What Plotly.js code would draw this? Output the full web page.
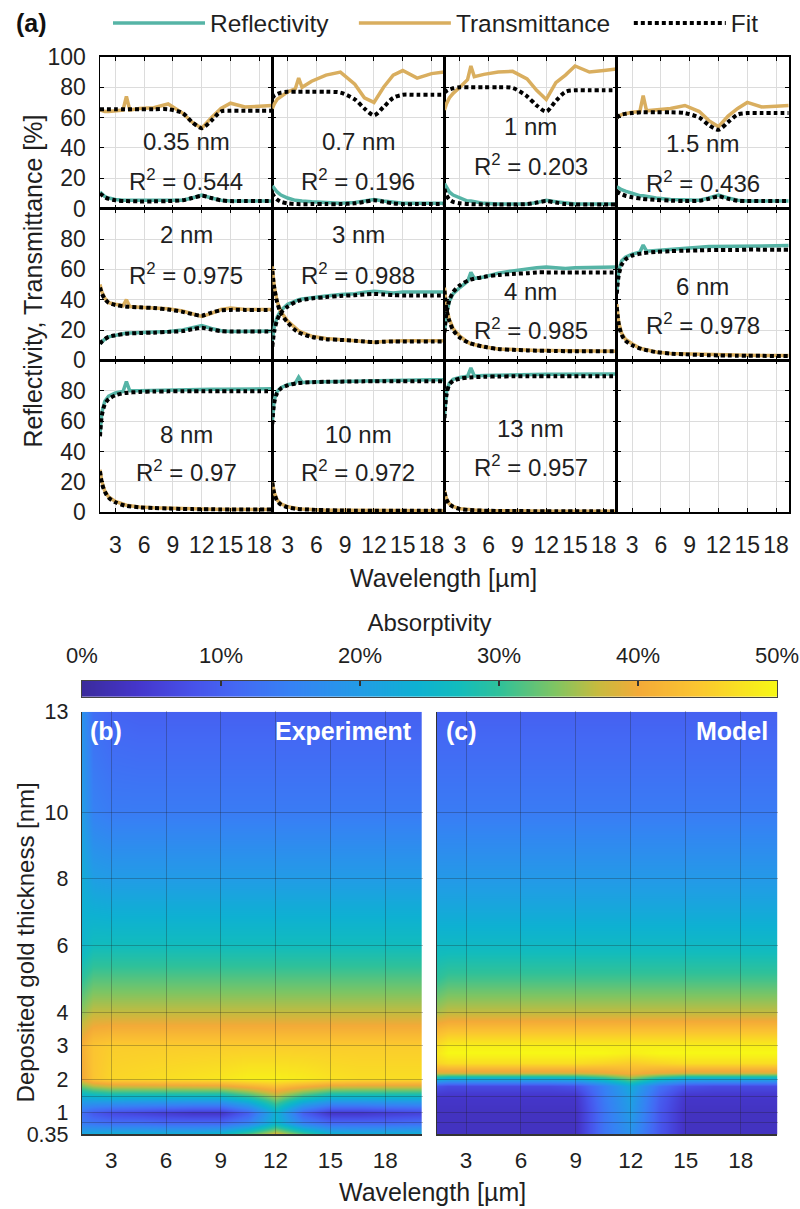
<!DOCTYPE html>
<html><head><meta charset="utf-8">
<script src="https://cdn.plot.ly/plotly-3.0.1.min.js"></script>
<style>html,body{margin:0;padding:0;background:#fff}#chart{width:800px;height:1209px}</style>
</head><body><div id="chart"></div>
<script>
// ---------- (a) spectra ----------
const wlMeas = [1.4, 1.6, 1.9, 2.3, 3, 3.8, 4.15, 4.5, 5.5, 7, 8.5, 10, 11, 12, 13, 14, 15, 16.5, 18, 19.3];
const wlFit  = [1.4, 1.6, 1.9, 2.3, 3, 4, 5.5, 7, 8.5, 10, 11, 12, 13, 14, 15, 16.5, 18, 19.3];
const wlTicks = [3, 6, 9, 12, 15, 18];
const pctTicks = [0, 20, 40, 60, 80, 100];
const seriesNames = ['Reflectivity', 'Transmittance', 'Fit'];

const thicknessLabels = ['0.35 nm', '0.7 nm', '1 nm', '1.5 nm', '2 nm', '3 nm', '4 nm', '6 nm', '8 nm', '10 nm', '13 nm'];
const r2Values = ['0.544', '0.196', '0.203', '0.436', '0.975', '0.988', '0.985', '0.978', '0.97', '0.972', '0.957'];

const refl_035 = [11, 9.5, 8, 7, 6, 5.5, 5.5, 5.5, 5, 5, 5, 5.5, 7, 9, 7, 5.5, 5, 5, 5, 5];
const trans_035 = [65, 64.5, 64, 64, 64.5, 65, 74, 65, 66, 66.5, 69, 63, 57, 53, 60, 66, 69.5, 67, 67.5, 68];
const reflFit_035 = [10, 9, 7.5, 6.5, 5.5, 5, 4.8, 4.8, 5, 5.5, 7, 8.5, 7, 5.5, 5, 5, 5, 5];
const transFit_035 = [65.5, 65.5, 65.5, 65.5, 65.5, 65.5, 65.5, 65.5, 65.5, 63, 57, 53, 58, 64, 64.5, 64.5, 64.5, 64.5];

const refl_07 = [15, 13, 11, 9, 7, 5.5, 5.5, 5, 4.5, 4, 3.5, 4, 5, 6, 5, 4, 3.5, 3.5, 3.5, 3.5];
const trans_07 = [66, 69, 72, 74, 77, 79, 86, 80, 84, 88, 90, 82, 73, 70, 80, 88, 91, 86, 89, 90];
const reflFit_07 = [10, 8, 6, 4.5, 3.5, 3, 3, 3, 3, 3.5, 4.5, 5.5, 4.5, 3.5, 3, 3, 3, 3];
const transFit_07 = [73, 74.5, 75.5, 76.5, 77, 77, 77, 77, 76.5, 72, 66, 61.5, 67, 73, 75, 75, 75, 75];

const refl_1 = [16.5, 14, 11, 9, 7, 5, 5, 4.5, 3.5, 3, 3, 3, 4, 5.5, 4.5, 3.5, 3, 3, 3, 3];
const trans_1 = [65, 69, 73, 76, 80, 85, 94, 87, 88.5, 90, 90.5, 85.5, 78, 72, 83, 88, 94, 90, 91, 92];
const reflFit_1 = [13, 9, 6, 4.5, 3.5, 3, 2.8, 2.8, 2.8, 3, 4, 5, 4, 3, 2.8, 2.8, 2.8, 2.8];
const transFit_1 = [76.5, 77.5, 78.5, 79.3, 80, 80, 80, 80, 79.5, 74, 68, 64, 71, 77, 78, 78, 78, 78];

const refl_15 = [14.5, 13.5, 12.5, 11.5, 10, 8.5, 8.5, 8, 7, 6, 5.5, 5.5, 7, 9, 7, 5.5, 5, 5, 5, 5];
const trans_15 = [60, 61, 62, 62.5, 63.5, 64, 74.5, 64.5, 65, 66, 68, 64, 58, 54, 61, 66, 70, 67, 67.5, 68];
const reflFit_15 = [11.5, 10.5, 9.5, 8.5, 7.5, 6.5, 5.8, 5.3, 5, 5.2, 6.5, 8, 6.5, 5.2, 5, 5, 5, 5];
const transFit_15 = [60, 61, 62, 62.5, 63, 63.5, 63.5, 63.5, 63, 60, 55, 52, 57, 62, 63, 63, 63, 63];

const refl_2 = [11, 12.5, 14, 15.5, 16.5, 17.5, 18, 18, 18.3, 18.5, 19, 20, 21.5, 23, 21, 19.5, 19, 19.3, 19.3, 19.3];
const trans_2 = [50, 45, 41, 38, 37, 36, 40, 35.5, 35, 34.5, 34, 32.5, 31, 29, 31, 33.5, 34.5, 33.5, 33.5, 33.5];
const reflFit_2 = [11, 12.5, 14, 15.5, 16.5, 17.5, 18, 18.3, 18.8, 19.3, 20.5, 21.5, 20.3, 19.3, 19, 19, 19, 19];
const transFit_2 = [48, 44, 40.5, 38, 36.5, 35.5, 35, 34.5, 33.5, 32, 30.5, 29.5, 31.5, 33, 33.3, 33.3, 33.3, 33.3];

const refl_3 = [13, 22, 28.5, 33, 37, 39.5, 40, 40.5, 41.5, 42.5, 43.5, 44, 45, 45.5, 45, 44.5, 45, 45, 45, 45];
const trans_3 = [62, 49, 39, 32, 26, 21, 19.5, 18.5, 16, 14.5, 13.5, 13, 12.5, 12, 12.5, 13, 13, 13, 13, 13];
const reflFit_3 = [9, 19, 26.5, 31.5, 35.5, 39, 40.8, 41.7, 42.5, 43, 43.5, 43.8, 43.5, 43, 42.8, 42.8, 42.8, 42.8];
const transFit_3 = [59, 48, 38.5, 31, 25, 19, 15.5, 14, 13.5, 13, 12.5, 12, 12.3, 12.5, 12.5, 12.5, 12.5, 12.5];

const refl_4 = [19.5, 30, 39, 44, 48, 52, 58, 54, 55, 57.5, 59, 60.5, 61, 61.5, 61, 60.5, 61, 61, 61, 61.5];
const trans_4 = [48, 35, 27, 21, 16, 12, 11, 10.5, 9, 7.5, 7, 6.8, 6.6, 6.5, 6.4, 6.3, 6.2, 6.2, 6.1, 6.1];
const reflFit_4 = [18.5, 31, 39.5, 45, 49.5, 53, 55, 56.3, 57, 57.5, 58, 58, 58, 58, 58, 58, 58, 58];
const transFit_4 = [46, 34, 26, 20, 15, 11.5, 9, 7.5, 7, 6.6, 6.4, 6.3, 6.2, 6.1, 6, 6, 6, 6];

const refl_6 = [46, 59, 65.5, 68, 70, 71.3, 76, 72, 72.5, 73, 74, 74.5, 75, 75, 75, 75, 75.3, 75.5, 75.5, 75.7];
const trans_6 = [37, 25, 18, 14, 11, 8, 7.5, 7, 5.5, 4.5, 4.2, 4, 3.8, 3.6, 3.5, 3.4, 3.4, 3.3, 3.3, 3.3];
const reflFit_6 = [44, 56, 63, 66.5, 69, 70.5, 71.5, 72, 72.3, 72.5, 72.7, 72.8, 72.8, 72.8, 73, 73, 73, 73];
const transFit_6 = [35, 24, 17, 13, 10, 7.5, 5.5, 4.5, 4, 3.6, 3.4, 3.3, 3.2, 3.1, 3, 3, 2.9, 2.9];

const refl_8 = [52, 66, 73, 76.5, 78.5, 79.5, 86, 80, 80, 80.3, 80.5, 80.6, 80.7, 80.8, 81, 81, 81, 81.2, 81.3, 81.3];
const trans_8 = [28, 20, 14, 10, 7, 5, 4.6, 4.2, 3.4, 2.9, 2.5, 2.2, 2.1, 2, 1.9, 1.9, 1.8, 1.8, 1.8, 1.8];
const reflFit_8 = [50, 64, 71, 74.5, 77, 78.5, 79.2, 79.5, 79.6, 79.7, 79.7, 79.7, 79.7, 79.7, 79.7, 79.7, 79.7, 79.7];
const transFit_8 = [27, 19, 13.5, 9.5, 6.5, 4.3, 3.2, 2.7, 2.4, 2.1, 2, 1.9, 1.9, 1.8, 1.8, 1.8, 1.8, 1.8];

const refl_10 = [60, 74, 79.5, 82, 84, 85, 89, 85.5, 85.8, 86, 86.3, 86.5, 86.7, 87, 87, 87, 87, 87.2, 87.3, 87.3];
const trans_10 = [20, 13, 8, 5.5, 3.5, 2.3, 2.2, 2, 1.6, 1.3, 1.2, 1.1, 1, 1, 1, 1, 1, 1, 1, 1];
const reflFit_10 = [58, 72, 78.5, 81.5, 83.5, 85, 85.6, 85.9, 86, 86.1, 86.2, 86.2, 86.2, 86.2, 86.2, 86.2, 86.2, 86.2];
const transFit_10 = [19.5, 12.5, 7.5, 5, 3.2, 2.1, 1.6, 1.3, 1.1, 1, 1, 0.9, 0.9, 0.9, 0.9, 0.9, 0.9, 0.9];

const refl_13 = [64, 79, 85, 87.5, 88.8, 89.5, 95, 89.7, 90, 90.3, 90.5, 90.6, 90.7, 90.8, 90.9, 91, 91, 91, 91, 91];
const trans_13 = [14, 9, 5.5, 3.8, 2.2, 1.6, 1.5, 1.4, 1.1, 0.9, 0.8, 0.7, 0.7, 0.7, 0.6, 0.6, 0.6, 0.6, 0.6, 0.6];
const reflFit_13 = [62, 77, 84, 86.5, 88, 88.8, 89.2, 89.4, 89.5, 89.5, 89.5, 89.5, 89.5, 89.5, 89.5, 89.5, 89.5, 89.5];
const transFit_13 = [13, 8.5, 5.3, 3.6, 2.1, 1.4, 1, 0.8, 0.7, 0.7, 0.6, 0.6, 0.6, 0.6, 0.6, 0.6, 0.6, 0.6];

// ---------- (b)/(c) absorptivity maps ----------
const hmWavelength = [1.4, 2, 3, 4.5, 6, 7.5, 9, 10.5, 12, 13.5, 15, 16.5, 18, 20];
const thickExp = [0.35, 0.7, 1, 1.5, 2, 3, 4, 6, 8, 10, 13];
const absExp = [
  [23, 24, 25, 25, 25, 25, 27, 33, 40, 33, 26, 25, 25, 25],
  [14, 13, 12, 12, 11, 11, 11, 15, 25, 15, 11, 11, 11, 12],
  [12, 9, 7, 6, 5, 4, 4, 10, 24, 10, 4, 4, 5, 6],
  [24, 25, 26, 26, 26, 26, 26, 30, 36, 30, 26, 26, 26, 26],
  [40, 44, 46, 46.5, 47, 47.5, 48, 49, 49, 48.5, 47.5, 47, 47, 47],
  [41, 44, 45, 45, 45, 45, 45, 45, 45, 45, 45, 45, 45, 45],
  [35, 37, 37, 37, 37, 37, 37, 37, 37, 37, 37, 37, 37, 37],
  [25, 27, 27, 27, 27, 27, 27, 27, 27, 27, 27, 27, 27, 27],
  [23, 20.5, 20, 20, 20, 20, 20, 20, 20, 20, 20, 20, 20, 20],
  [20, 15, 14, 14, 14, 14, 14, 14, 14, 14, 14, 14, 14, 14],
  [18, 12, 10.5, 10, 10, 10, 10, 10, 10, 10, 10, 10, 10, 10]
];
const thickModel = [0.35, 0.7, 1, 1.5, 1.8, 2, 2.2, 2.5, 2.8, 3, 3.5, 4, 5, 6, 7, 8, 10, 13];
const absModel = [
  [3, 3, 3, 3, 3, 3, 3, 13, 18, 9, 3, 3, 3, 3],
  [3, 3, 3, 3, 3, 3, 3, 13, 19, 9, 3, 3, 3, 3],
  [3, 3, 3, 3, 3, 3, 3, 13, 20, 9, 3, 3, 3, 3],
  [4, 4, 4, 4, 4, 4, 4, 14, 21, 10, 4, 4, 4, 4],
  [8, 7, 7, 7, 7, 7, 8, 15, 23, 13, 8, 7, 7, 7],
  [24, 22, 22, 22, 22, 22, 23, 27, 33, 26, 22, 22, 22, 22],
  [38, 38, 38, 38, 38, 38, 38, 39, 41, 39, 38, 38, 38, 38],
  [46, 47, 47, 47, 47, 47, 47, 46, 45, 46, 47, 47, 47, 47],
  [48, 50, 50, 50, 50, 50, 50, 50, 49, 50, 50, 50, 50, 50],
  [47, 49, 49, 49, 49, 49, 49, 49, 49, 49, 49, 49, 49, 49],
  [42, 43, 43, 43, 43, 43, 43, 43, 43, 43, 43, 43, 43, 43],
  [36, 37, 37, 37, 37, 37, 37, 37, 37, 37, 37, 37, 37, 37],
  [30, 31, 31, 31, 31, 31, 31, 31, 31, 31, 31, 31, 31, 31],
  [26, 26, 26, 26, 26, 26, 26, 26, 26, 26, 26, 26, 26, 26],
  [22.5, 22.5, 22.5, 22.5, 22.5, 22.5, 22.5, 22.5, 22.5, 22.5, 22.5, 22.5, 22.5, 22.5],
  [19.5, 19.5, 19.5, 19.5, 19.5, 19.5, 19.5, 19.5, 19.5, 19.5, 19.5, 19.5, 19.5, 19.5],
  [14, 14, 14, 14, 14, 14, 14, 14, 14, 14, 14, 14, 14, 14],
  [10, 10, 10, 10, 10, 10, 10, 10, 10, 10, 10, 10, 10, 10]
];
const thickTicks = [0.35, 0.7, 1, 1.5, 2, 3, 4, 6, 8, 10, 13];
const thickTickText = ['0.35', '', '1', '', '2', '3', '4', '6', '8', '10', '13'];
const cbarSteps = [0, 5, 10, 15, 20, 25, 30, 35, 40, 45, 50];
const cbarTicks = [0, 10, 20, 30, 40, 50];
const cbarTickText = ['0%', '10%', '20%', '30%', '40%', '50%'];

// ---------- styling ----------
const W = 800, H = 1209;
const FONT = 'Liberation Sans, Arial, Helvetica, sans-serif';
const TXT = '#1f1f1f';
const TEAL = '#56b4a6', GOLD = '#d9ae5f';
const legendPad = ['\u00a0\u00a0\u00a0', '\u00a0\u00a0', ''];
const colorscale = [[0,'#3b2b9c'],[0.08,'#4536cc'],[0.16,'#4752ea'],[0.22,'#4468f4'],[0.3,'#3682f4'],[0.4,'#229ce6'],[0.48,'#0eb1d2'],[0.54,'#12bcbd'],[0.6,'#2fc19a'],[0.68,'#80c562'],[0.74,'#c6bb3f'],[0.8,'#f3aa38'],[0.88,'#fbc431'],[1,'#f7f815']];

const colEdges = [100, 272.3, 444.5, 616.8, 789];
const rowEdges = [55, 207, 359, 511];
const panelLabelY = [[140,178],[140,178],[125,163],[142,180],[233,272],[233,272],[290,328],[285,323],[433,470],[433,470],[427,465]];

const panels = [
  [refl_035, trans_035, reflFit_035, transFit_035],
  [refl_07, trans_07, reflFit_07, transFit_07],
  [refl_1, trans_1, reflFit_1, transFit_1],
  [refl_15, trans_15, reflFit_15, transFit_15],
  [refl_2, trans_2, reflFit_2, transFit_2],
  [refl_3, trans_3, reflFit_3, transFit_3],
  [refl_4, trans_4, reflFit_4, transFit_4],
  [refl_6, trans_6, reflFit_6, transFit_6],
  [refl_8, trans_8, reflFit_8, transFit_8],
  [refl_10, trans_10, reflFit_10, transFit_10],
  [refl_13, trans_13, reflFit_13, transFit_13]
];

const data = [];
const annotations = [];
const layout = {
  width: W, height: H,
  margin: {l: 0, r: 0, t: 0, b: 0},
  paper_bgcolor: '#ffffff', plot_bgcolor: '#ffffff',
  font: {family: FONT, size: 22.5, color: TXT},
  showlegend: true,
  legend: {
    orientation: 'h', x: 108 / W, xanchor: 'left', y: 1 - 21 / H, yanchor: 'middle',
    font: {size: 24.5, color: TXT}, bgcolor: 'rgba(0,0,0,0)',
    itemwidth: 92, tracegroupgap: 0
  },
  annotations: annotations
};

for (let i = 0; i < 12; i++) {
  const row = Math.floor(i / 4), col = i % 4;
  const s = i === 0 ? '' : String(i + 1);
  layout['xaxis' + s] = {
    domain: [colEdges[col] / W, colEdges[col + 1] / W], anchor: 'y' + s,
    range: [1.4, 19.35], tickvals: wlTicks, showticklabels: row === 2,
    ticks: 'inside', ticklen: 4, tickwidth: 1, tickcolor: '#000',
    showgrid: true, gridcolor: '#dcdcdc', gridwidth: 1,
    showline: true, mirror: 'ticks', linecolor: '#000', linewidth: 1.5,
    zeroline: false, fixedrange: true, ticklabelstandoff: 12,
    tickfont: {size: 23, color: TXT}
  };
  layout['yaxis' + s] = {
    domain: [1 - rowEdges[row + 1] / H, 1 - rowEdges[row] / H], anchor: 'x' + s,
    range: [0, 100], tickvals: pctTicks,
    ticktext: pctTicks.map(v => (row > 0 && v === 100) ? '' : String(v)),
    showticklabels: col === 0,
    ticks: 'inside', ticklen: 4, tickwidth: 1, tickcolor: '#000',
    showgrid: true, gridcolor: '#dcdcdc', gridwidth: 1,
    showline: true, mirror: 'ticks', linecolor: '#000', linewidth: 1.5,
    zeroline: false, fixedrange: true, ticklabelstandoff: 8,
    tickfont: {size: 23, color: TXT}
  };
  if (i < panels.length) {
    const p = panels[i];
    const xa = 'x' + s, ya = 'y' + s;
    data.push({type: 'scatter', mode: 'lines', x: wlMeas, y: p[0], xaxis: xa, yaxis: ya,
      line: {color: TEAL, width: 3.5}, name: seriesNames[0] + legendPad[0], legendgroup: 'R', showlegend: i === 0, hoverinfo: 'skip'});
    data.push({type: 'scatter', mode: 'lines', x: wlMeas, y: p[1], xaxis: xa, yaxis: ya,
      line: {color: GOLD, width: 3.5}, name: seriesNames[1] + legendPad[1], legendgroup: 'T', showlegend: i === 0, hoverinfo: 'skip'});
    data.push({type: 'scatter', mode: 'lines', x: wlFit, y: p[2], xaxis: xa, yaxis: ya,
      line: {color: '#000', width: 4, dash: '4px,3px', shape: 'spline', smoothing: 0.8}, name: seriesNames[2], legendgroup: 'F', showlegend: i === 0, hoverinfo: 'skip'});
    data.push({type: 'scatter', mode: 'lines', x: wlFit, y: p[3], xaxis: xa, yaxis: ya,
      line: {color: '#000', width: 4, dash: '4px,3px', shape: 'spline', smoothing: 0.8}, name: seriesNames[2], legendgroup: 'F', showlegend: false, hoverinfo: 'skip'});
    const [y1, y2] = panelLabelY[i];
    const bottom = rowEdges[row + 1];
    annotations.push({xref: xa + ' domain', yref: ya + ' domain', x: 0.5, y: (bottom - y1) / 152,
      text: thicknessLabels[i], showarrow: false, font: {size: 24, color: TXT}, xanchor: 'center', yanchor: 'middle'});
    annotations.push({xref: xa + ' domain', yref: ya + ' domain', x: 0.5, y: (bottom - y2) / 152,
      text: 'R<sup>2</sup> = ' + r2Values[i], showarrow: false, font: {size: 24, color: TXT}, xanchor: 'center', yanchor: 'middle'});
  } else {
    data.push({type: 'scatter', mode: 'lines', x: [], y: [], xaxis: 'x' + s, yaxis: 'y' + s, showlegend: false, hoverinfo: 'skip'});
  }
}

// colour bar (axis 13)
layout.xaxis13 = {
  domain: [82 / W, 777 / W], anchor: 'y13', range: [0, 50], side: 'top',
  tickvals: cbarTicks, ticktext: cbarTickText, ticks: 'inside', ticklen: 5, tickcolor: '#333', tickwidth: 1.5,
  showline: true, mirror: true, linecolor: '#444', linewidth: 1.2, showgrid: false, zeroline: false,
  ticklabelstandoff: 8, tickfont: {size: 22, color: TXT},
  title: {text: 'Absorptivity', font: {size: 24, color: TXT}, standoff: 4}, fixedrange: true
};
layout.yaxis13 = {
  domain: [1 - 696 / H, 1 - 680 / H], anchor: 'x13', range: [0, 1],
  showticklabels: false, ticks: '', showgrid: false, zeroline: false,
  showline: true, mirror: true, linecolor: '#444', linewidth: 1.2, fixedrange: true
};
data.push({type: 'heatmap', x: cbarSteps, y: [0, 1], z: [cbarSteps, cbarSteps], xaxis: 'x13', yaxis: 'y13',
  colorscale: colorscale, zmin: 0, zmax: 50, zsmooth: 'best', showscale: false, hoverinfo: 'skip'});

// maps (axes 14, 15)
const mapDomains = [[82, 421.7], [436.7, 777.3]];
const mapY = [1 - 1134.3 / H, 1 - 711 / H];
[14, 15].forEach((n, k) => {
  layout['xaxis' + n] = {
    domain: [mapDomains[k][0] / W, mapDomains[k][1] / W], anchor: 'y' + n, range: [1.4, 20],
    tickvals: wlTicks, ticks: 'inside', ticklen: 423, tickwidth: 1, tickcolor: 'rgba(30,30,30,0.28)',
    layer: 'above traces', showgrid: false, zeroline: false,
    showline: true, linecolor: '#333', linewidth: 1.2, ticklabelstandoff: 5,
    tickfont: {size: 22.5, color: TXT}, fixedrange: true
  };
  layout['yaxis' + n] = {
    domain: mapY, anchor: 'x' + n, range: [0.35, 13],
    tickvals: thickTicks, ticktext: thickTickText, showticklabels: k === 0,
    ticks: 'inside', ticklen: 341, tickwidth: 1, tickcolor: 'rgba(30,30,30,0.28)',
    layer: 'above traces', showgrid: false, zeroline: false,
    showline: true, linecolor: '#333', linewidth: 1.2, ticklabelstandoff: 8,
    tickfont: {size: 21.5, color: TXT}, fixedrange: true
  };
});
data.push({type: 'heatmap', x: hmWavelength, y: thickExp, z: absExp, xaxis: 'x14', yaxis: 'y14',
  colorscale: colorscale, zmin: 0, zmax: 50, zsmooth: 'best', showscale: false, hoverinfo: 'skip'});
data.push({type: 'heatmap', x: hmWavelength, y: thickModel, z: absModel, xaxis: 'x15', yaxis: 'y15',
  colorscale: colorscale, zmin: 0, zmax: 50, zsmooth: 'best', showscale: false, hoverinfo: 'skip'});

// text labels
const paperText = (text, x, y, opts) => Object.assign({xref: 'paper', yref: 'paper', x: x / W, y: 1 - y / H,
  text: text, showarrow: false, xanchor: 'center', yanchor: 'middle', font: {size: 24, color: TXT}}, opts || {});
annotations.push(paperText('<b>(a)</b>', 14, 21, {xanchor: 'left', font: {size: 25, color: '#111'}}));
annotations.push(paperText('Reflectivity, Transmittance [%]', 33, 280, {textangle: -90, font: {size: 25, color: TXT}}));
annotations.push(paperText('Wavelength [µm]', 443, 577, {font: {size: 25, color: TXT}}));
annotations.push(paperText('<b>(b)</b>', 88, 730, {xanchor: 'left', font: {size: 25, color: '#ffffff'}}));
annotations.push(paperText('<b>Experiment</b>', 414, 730, {xanchor: 'right', font: {size: 25, color: '#ffffff'}}));
annotations.push(paperText('<b>(c)</b>', 444, 730, {xanchor: 'left', font: {size: 25, color: '#ffffff'}}));
annotations.push(paperText('<b>Model</b>', 770, 730, {xanchor: 'right', font: {size: 25, color: '#ffffff'}}));
annotations.push(paperText('Deposited gold thickness [nm]', 25, 942, {textangle: -90, font: {size: 24, color: TXT}}));
annotations.push(paperText('Wavelength [µm]', 432, 1192, {font: {size: 25, color: TXT}}));

Plotly.newPlot('chart', data, layout, {staticPlot: true, displayModeBar: false});
</script></body></html>
